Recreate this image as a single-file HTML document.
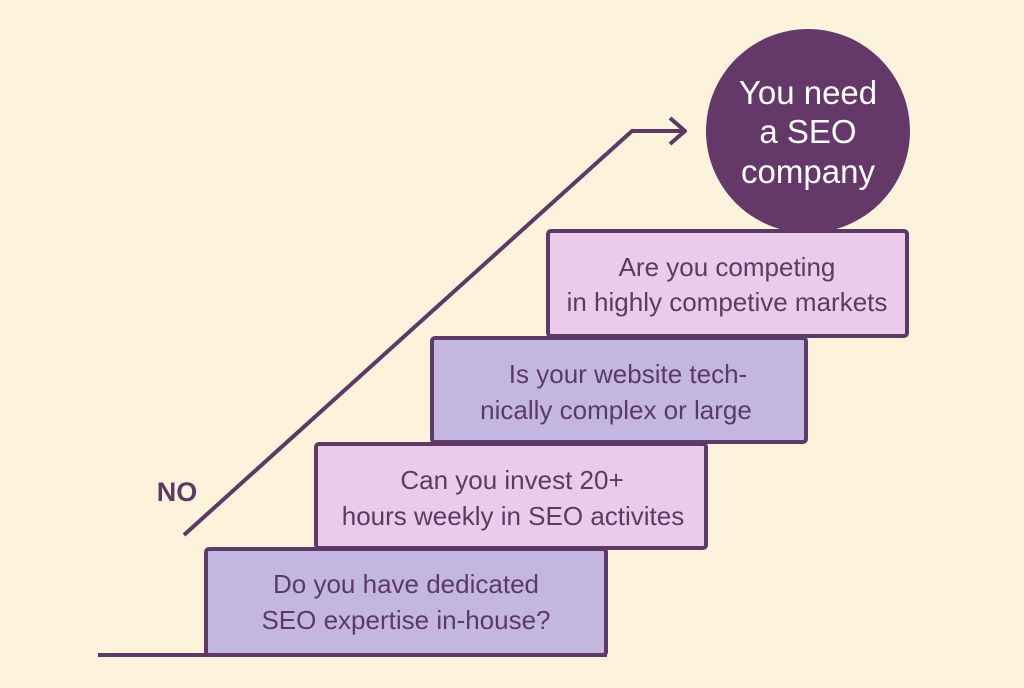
<!DOCTYPE html>
<html><head><meta charset="utf-8"><style>
body{margin:0;width:1024px;height:683px;background:#fdf2dc;overflow:hidden;font-family:"Liberation Sans","DejaVu Sans",sans-serif}
</style></head><body>
<svg width="1024" height="683" viewBox="0 0 1024 683" xmlns="http://www.w3.org/2000/svg">
<rect width="1024" height="683" fill="#fdf2dc"/>
<g stroke="#5d3a65" stroke-width="4" stroke-linejoin="round">
<rect x="548" y="231" width="359" height="105" fill="#eccbea" rx="3"/>
<rect x="432" y="338" width="374" height="104" fill="#c3b7e2" rx="3"/>
<rect x="316" y="444" width="390" height="104" fill="#eccbea" rx="3"/>
<rect x="206" y="549" width="400" height="106" fill="#c3b7e2" rx="3"/>
<line x1="98" y1="655" x2="607" y2="655"/>
<polyline points="184,535 632,131 684,131" fill="none"/>
<polyline points="670,118 685,131 670,144" fill="none"/>
</g>
<circle cx="808" cy="131" r="102" fill="#65386a"/>
<g fill="#ffffff" font-size="33" text-anchor="middle">
<text x="808" y="104">You need</text>
<text x="808" y="143">a SEO</text>
<text x="808" y="183">company</text>
</g>
<g fill="#5d3a65" font-size="26" text-anchor="middle">
<text x="727" y="276">Are you competing</text>
<text x="727" y="311">in highly competive markets</text>
<text x="628" y="383">Is your website tech-</text>
<text x="616" y="419">nically complex or large</text>
<text x="512" y="489">Can you invest 20+</text>
<text x="513" y="525">hours weekly in SEO activites</text>
<text x="406" y="593">Do you have dedicated</text>
<text x="406" y="629">SEO expertise in-house?</text>
<text x="177" y="501" font-weight="bold" font-size="27">NO</text>
</g>
</svg>
</body></html>
